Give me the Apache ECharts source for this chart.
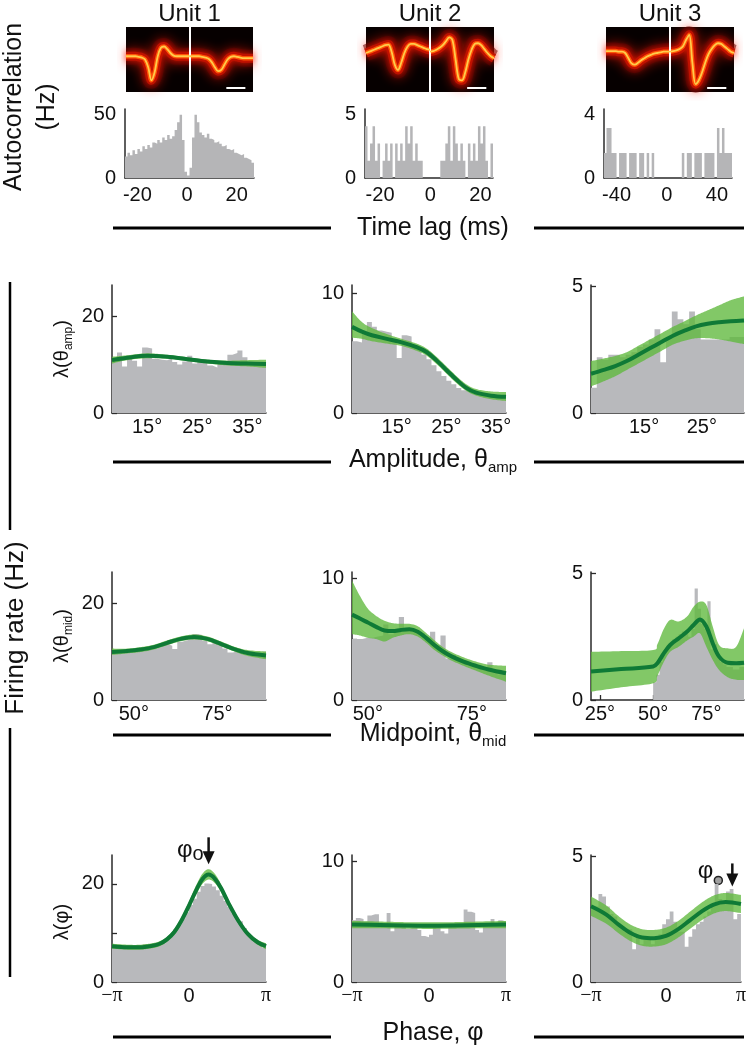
<!DOCTYPE html>
<html><head><meta charset="utf-8">
<script src="https://cdn.jsdelivr.net/npm/echarts@6/dist/echarts.min.js"></script>
<style>html,body{margin:0;padding:0;background:#fff}#c{width:749px;height:1050px}</style>
</head><body><div id="c"></div>
<script>
const FONT = "'Liberation Sans', Arial, Helvetica, sans-serif";
const SERIF = "'Liberation Serif', 'Times New Roman', serif";
const unitNames = ['Unit 1', 'Unit 2', 'Unit 3'];

// ---- waveform density (two channels per unit), fraction of image height from bottom
const wave1A = [.55,.55,.55,.55,.54,.53,.50,.38,.18,.30,.55,.68,.70,.66,.60,.56,.55,.55,.55,.55,.55];
const wave1B = [.55,.55,.55,.55,.54,.53,.51,.46,.38,.32,.34,.42,.50,.54,.55,.54,.53,.52,.52,.52,.52];
const wave2A = [.60,.62,.64,.66,.68,.70,.72,.73,.62,.42,.34,.45,.60,.70,.74,.74,.72,.70,.68,.66,.65];
const wave2B = [.62,.63,.65,.68,.72,.78,.84,.80,.50,.20,.18,.30,.50,.65,.74,.75,.72,.66,.60,.55,.52];
const wave3A = [.63,.63,.63,.63,.62,.62,.60,.52,.44,.42,.45,.49,.52,.55,.57,.59,.60,.61,.62,.62,.62];
const wave3B = [.62,.63,.64,.66,.70,.80,.88,.45,.12,.18,.30,.45,.58,.66,.72,.75,.74,.70,.66,.62,.60];
const scaleBar = [1.58, 1.88, 0.07];

// ---- autocorrelation (Hz), bins start / width
const acStart = [-25, -26, -50];
const acBin = [1, 1, 2];
const acRange = [[-25, 27], [-26, 25], [-50, 52]];
const acYMax = [54.5, 5.4, 4.36];
const acYLabels = [[0, 50], [0, 5], [0, 4]];
const acXLabels = [[-20, 0, 20], [-20, 0, 20], [-40, 0, 40]];
const ac1 = [17,20,18,22,19,23,21,25,23,26,24,28,27,30,28,32,30,34,31,33,38,44,50,30,5,2,8,32,50,44,36,34,32,35,31,30,28,29,27,25,26,23,22,23,20,19,18,19,16,15,14,12];
const ac2 = [4.05,1.35,2.7,4.05,1.35,2.7,0,1.35,2.7,1.35,2.7,0,2.7,1.35,2.7,1.35,4.05,2.7,4.05,1.35,2.7,1.35,1.35,0,0,0,0,0,0,0,1.35,1.35,2.7,4.05,1.35,4.05,2.7,1.35,2.7,1.35,0,2.7,1.35,2.7,1.35,4.05,2.7,4.05,1.35,0,2.7];
const ac3 = [1.58,3.16,3.16,1.58,1.58,0,1.58,1.58,1.58,0,1.58,1.58,1.58,0,1.58,1.58,0,1.58,0,1.58,0,0,0,0,0,0,0,0,0,0,0,1.58,0,1.58,1.58,0,1.58,1.58,1.58,0,1.58,1.58,1.58,1.58,0,3.16,1.58,3.16,1.58,1.58,1.58];

// ---- Amplitude row
const amp1Hist = [11.2,12.5,9.6,11.5,10.8,9.6,13.5,13.3,11.2,11.0,10.9,11.3,10.5,10.0,10.6,11.8,10.2,10.7,10.5,9.8,9.4,10.5,10.2,12.0,12.4,12.9,11.5,10.3,10.2,10.2,10.0];
const amp1X = [8, 11, 15, 19, 23, 27, 31, 35, 38.7];
const amp1Mean = [10.9, 11.4, 11.8, 11.6, 11.1, 10.6, 10.3, 10.2, 10.1];
const amp1Low = [10.2, 10.9, 11.3, 11.2, 10.7, 10.2, 9.8, 9.6, 9.3];
const amp1High = [11.6, 11.9, 12.3, 12.0, 11.5, 11.0, 10.8, 10.9, 11.0];

const amp2Hist = [6.0,5.9,6.6,7.6,7.2,6.9,6.8,6.7,6.1,4.6,6.5,6.4,5.6,5.3,4.9,4.5,4.0,3.5,3.1,2.7,2.4,2.1,1.9,1.9,1.7,1.6,1.5,1.4,1.4,1.3,1.3];
const amp2X = [6, 8, 10, 13, 16, 19, 21, 23, 25, 27, 29, 31, 34, 37];
const amp2Mean = [7.2, 6.8, 6.5, 6.2, 5.9, 5.5, 5.1, 4.4, 3.6, 2.8, 2.1, 1.7, 1.45, 1.35];
const amp2Low = [6.3, 6.2, 6.0, 5.8, 5.6, 5.2, 4.8, 4.1, 3.3, 2.5, 1.85, 1.45, 1.15, 1.0];
const amp2High = [8.5, 7.6, 7.1, 6.6, 6.2, 5.8, 5.4, 4.7, 3.9, 3.1, 2.4, 2.0, 1.8, 1.75];

const amp3Hist = [1.0,2.2,2.1,2.3,2.3,2.2,2.3,2.4,2.6,2.7,2.9,3.3,2.0,3.0,4.0,3.7,3.5,4.0,3.3,2.9,2.9,2.9,2.9,2.9,3.0,3.0,3.0];
const amp3X = [5.8, 8, 10, 12, 14, 16, 18, 20, 22, 24, 26, 28, 30, 32.3];
const amp3Mean = [1.55, 1.7, 1.85, 2.05, 2.3, 2.55, 2.8, 3.05, 3.25, 3.42, 3.52, 3.58, 3.62, 3.65];
const amp3Low = [1.05, 1.25, 1.45, 1.7, 1.95, 2.2, 2.45, 2.7, 2.85, 2.95, 2.95, 2.9, 2.82, 2.72];
const amp3High = [2.05, 2.15, 2.25, 2.4, 2.65, 2.9, 3.15, 3.4, 3.62, 3.85, 4.05, 4.25, 4.45, 4.6];

// ---- Midpoint row
const mid1Hist = [9.5,9.6,9.7,9.8,10.0,10.1,10.3,10.4,10.6,11.0,11.6,11.2,10.5,12.0,12.3,12.6,13.6,13.4,12.2,11.5,12.0,11.5,10.6,9.8,10.0,9.6,9.2,9.1,9.0,9.1,10.0];
const mid1X = [43.5, 48, 52, 56, 60, 64, 68, 72, 76, 80, 84, 89.5];
const mid1Mean = [9.9, 10.1, 10.4, 10.9, 11.8, 12.6, 13.0, 12.6, 11.6, 10.5, 9.7, 9.2];
const mid1Low = [9.3, 9.6, 9.9, 10.4, 11.3, 12.1, 12.5, 12.1, 11.1, 10.0, 9.1, 8.4];
const mid1High = [10.6, 10.6, 10.9, 11.4, 12.3, 13.1, 13.5, 13.1, 12.1, 11.0, 10.3, 10.0];

const mid2Hist = [5.0,5.0,5.1,5.1,5.2,5.3,6.2,5.4,5.6,6.8,5.9,5.8,5.7,5.5,5.1,5.6,4.5,5.3,3.4,3.7,3.4,3.2,2.9,2.7,2.6,2.5,3.1,2.3,2.1,2.0];
const mid2X = [46.2, 48, 50, 52, 54, 56, 58, 60, 62, 64, 66, 68, 70, 73, 76, 79, 83.2];
const mid2Mean = [7.0, 6.7, 6.35, 6.0, 5.7, 5.65, 5.75, 5.8, 5.6, 5.1, 4.5, 4.0, 3.6, 3.15, 2.8, 2.5, 2.2];
const mid2Low = [5.4, 5.3, 5.1, 5.0, 4.8, 5.1, 5.3, 5.4, 5.2, 4.7, 4.1, 3.65, 3.25, 2.8, 2.4, 2.0, 1.5];
const mid2High = [9.8, 8.6, 7.5, 6.9, 6.5, 6.3, 6.25, 6.25, 6.05, 5.5, 4.9, 4.35, 3.95, 3.5, 3.15, 2.9, 2.8];

const mid3Hist = [0.7,1.0,1.5,1.8,2.0,2.2,2.4,2.5,2.6,2.7,2.6,2.5,2.8,4.4,3.6,3.0,2.8,3.9,2.0,2.2,1.7,1.5,1.4,1.3,1.3,1.2,1.2,1.3,1.3];
const mid3X = [20.8, 35, 50, 52, 55, 58, 62, 66, 69, 72, 75, 78, 81, 85, 89, 92.7];
const mid3Mean = [1.12, 1.22, 1.32, 1.45, 1.84, 2.17, 2.43, 2.7, 2.96, 3.18, 2.9, 2.24, 1.71, 1.47, 1.45, 1.47];
const mid3Low = [0.33, 0.5, 0.66, 0.95, 1.5, 1.9, 2.1, 2.35, 2.5, 2.63, 2.1, 1.58, 1.18, 0.9, 0.8, 0.79];
const mid3High = [1.9, 1.93, 1.97, 2.2, 2.8, 3.16, 3.1, 3.3, 3.68, 3.88, 3.75, 2.9, 2.17, 2.04, 2.1, 2.83];

// ---- Phase row
const ph1Hist = [7.0,7.6,7.0,6.8,6.9,6.8,6.8,7.0,7.7,7.1,7.2,7.4,7.7,8.2,8.9,9.6,10.8,11.6,12.9,14.2,15.7,17.0,18.4,19.6,20.1,20.0,19.5,18.7,17.6,16.5,15.3,14.0,13.0,12.4,11.0,9.5,9.0,8.3,7.5,7.0];
const ph1X = [-3.1416, -2.5, -2, -1.5, -1.2, -0.9, -0.6, -0.3, 0, 0.3, 0.55, 0.8, 1.05, 1.3, 1.6, 2.0, 2.4, 2.8, 3.1416];
const ph1Mean = [7.3, 7.1, 7.1, 7.4, 7.8, 8.7, 10.2, 12.6, 15.6, 18.8, 21.0, 21.9, 21.1, 19.2, 16.2, 12.6, 9.8, 8.1, 7.3];
const ph1Low = [6.8, 6.6, 6.6, 6.9, 7.3, 8.2, 9.6, 11.9, 14.8, 17.9, 20.0, 20.9, 20.2, 18.4, 15.5, 12.0, 9.3, 7.6, 6.7];
const ph1High = [7.8, 7.6, 7.6, 7.9, 8.3, 9.2, 10.8, 13.3, 16.4, 19.8, 22.1, 23.0, 22.1, 20.0, 16.9, 13.2, 10.3, 8.6, 7.9];

const ph2Hist = [5.1,5.3,5.2,5.0,5.5,5.6,5.6,4.9,4.7,5.7,4.2,4.6,4.7,4.6,4.4,4.5,4.5,4.3,3.8,3.7,3.9,4.5,4.6,4.2,4.0,4.6,4.7,4.8,4.6,6.0,5.8,5.7,4.3,4.1,4.6,4.7,5.2,4.7,5.1,5.0];
const ph2X = [-3.1416, -2, -1, 0, 1, 2, 3.1416];
const ph2Mean = [4.75, 4.72, 4.68, 4.66, 4.68, 4.72, 4.75];
const ph2Low = [4.45, 4.44, 4.41, 4.39, 4.41, 4.44, 4.45];
const ph2High = [5.05, 5.0, 4.95, 4.93, 4.95, 5.0, 5.05];

const ph3Hist = [3.0,3.0,3.5,3.4,3.0,2.7,2.6,2.3,2.1,2.0,2.1,1.3,1.8,1.5,1.8,1.7,1.5,1.8,1.9,2.3,2.5,2.8,2.4,2.0,2.0,1.4,1.8,2.1,2.3,2.4,2.6,2.8,3.1,3.9,3.3,3.1,3.6,3.7,2.5,2.7];
const ph3X = [-3.1416, -2.5, -2, -1.5, -1, -0.5, 0, 0.5, 1, 1.5, 2, 2.5, 3.1416];
const ph3Mean = [3.01, 2.68, 2.29, 1.96, 1.77, 1.74, 1.83, 2.09, 2.45, 2.81, 3.08, 3.18, 3.10];
const ph3Low = [2.63, 2.32, 1.95, 1.63, 1.44, 1.41, 1.5, 1.76, 2.11, 2.46, 2.72, 2.82, 2.74];
const ph3High = [3.4, 3.04, 2.63, 2.29, 2.1, 2.07, 2.16, 2.42, 2.79, 3.16, 3.44, 3.54, 3.46];

const phiPref = [0.8, null, 2.78];

// ---------------------------------------------------------------
const PI = Math.PI;
const panels = [
  {hist: amp1Hist, hs: 8, hw: 1, x: amp1X, m: amp1Mean, lo: amp1Low, hi: amp1High, xr: [8, 38.7], ymax: 26.4, xl: [15,25,35], yl: [0,20], yt: [0,10,20], kind: 'deg'},
  {hist: amp2Hist, hs: 6, hw: 1, x: amp2X, m: amp2Mean, lo: amp2Low, hi: amp2High, xr: [6, 37], ymax: 10.7, xl: [15,25,35], yl: [0,10], yt: [0,5,10], kind: 'deg'},
  {hist: amp3Hist, hs: 5.8, hw: 1, x: amp3X, m: amp3Mean, lo: amp3Low, hi: amp3High, xr: [5.8, 32.3], ymax: 5.05, xl: [15,25], yl: [0,5], yt: [0,5], kind: 'deg'},
  {hist: mid1Hist, hs: 43.5, hw: 1.5, x: mid1X, m: mid1Mean, lo: mid1Low, hi: mid1High, xr: [43.5, 89.5], ymax: 26.4, xl: [50,75], yl: [0,20], yt: [0,10,20], kind: 'deg'},
  {hist: mid2Hist, hs: 46.2, hw: 1.25, x: mid2X, m: mid2Mean, lo: mid2Low, hi: mid2High, xr: [46.2, 83.2], ymax: 10.5, xl: [50,75], yl: [0,10], yt: [0,5,10], kind: 'deg'},
  {hist: mid3Hist, hs: 50, hw: 1.5, x: mid3X, m: mid3Mean, lo: mid3Low, hi: mid3High, xr: [20.8, 92.7], ymax: 5.05, xl: [25,50,75], yl: [0,5], yt: [0,5], kind: 'deg'},
  {hist: ph1Hist, hs: -PI, hw: 2*PI/40, x: ph1X, m: ph1Mean, lo: ph1Low, hi: ph1High, xr: [-PI, PI], ymax: 25.9, xl: [-PI,0,PI], yl: [0,20], yt: [0,10,20], kind: 'phase'},
  {hist: ph2Hist, hs: -PI, hw: 2*PI/40, x: ph2X, m: ph2Mean, lo: ph2Low, hi: ph2High, xr: [-PI, PI], ymax: 10.5, xl: [-PI,0,PI], yl: [0,10], yt: [0,5,10], kind: 'phase'},
  {hist: ph3Hist, hs: -PI, hw: 2*PI/40, x: ph3X, m: ph3Mean, lo: ph3Low, hi: ph3High, xr: [-PI, PI], ymax: 5.05, xl: [-PI,0,PI], yl: [0,5], yt: [0,5], kind: 'phase'}
];

const colLeft = [112, 352, 591];
const colWidth = [154, 154, 153];
const rowTop = [285, 572, 855];
const rowHeight = [128, 128, 127];

const waveBox = [[126, 27, 127, 65], [366, 27, 128, 65], [606, 27, 128, 65]];
const acBox = [[125, 109, 129, 69], [365, 109, 128, 69], [604, 109, 128, 69]];

const AXC = '#2a2a2a';
const HISTC = '#b8b9bc';
const BANDC = 'rgba(95,185,60,0.78)';
const LINEC = '#0f7a36';

function histPoints(start, w, vals) {
  const pts = vals.map((v, i) => [start + i * w, v]);
  pts.push([start + vals.length * w, vals[vals.length - 1]]);
  return pts;
}
function zip(a, b) { return a.map((v, i) => [v, b[i]]); }

// Catmull-Rom smoothing of already-projected pixel points (rendering only)
function smoothPix(pts, steps) {
  const out = [];
  for (let i = 0; i < pts.length - 1; i++) {
    const p0 = pts[Math.max(0, i - 1)], p1 = pts[i], p2 = pts[i + 1], p3 = pts[Math.min(pts.length - 1, i + 2)];
    for (let s = 0; s < steps; s++) {
      const t = s / steps, t2 = t * t, t3 = t2 * t;
      const f = (a, b, c, d) => 0.5 * ((2 * b) + (-a + c) * t + (2 * a - 5 * b + 4 * c - d) * t2 + (-a + 3 * b - 3 * c + d) * t3);
      out.push([f(p0[0], p1[0], p2[0], p3[0]), f(p0[1], p1[1], p2[1], p3[1])]);
    }
  }
  out.push(pts[pts.length - 1]);
  return out;
}

const grids = [], xAxes = [], yAxes = [], series = [];

// waveform grids
const waves = [[wave1A, wave1B], [wave2A, wave2B], [wave3A, wave3B]];
waveBox.forEach((b, u) => {
  const gi = grids.length;
  grids.push({left: b[0], top: b[1], width: b[2], height: b[3], show: true, backgroundColor: '#060000', borderWidth: 0});
  xAxes.push({gridIndex: gi, type: 'value', min: 0, max: 2, show: false});
  yAxes.push({gridIndex: gi, type: 'value', min: 0, max: 1, show: false});
  waves[u].forEach((w, ch) => {
    const pts = w.map((v, i) => [ch + i / (w.length - 1), v]);
    const layers = [
      {width: 17, color: 'rgba(90,0,0,0.55)', blur: 12},
      {width: 9, color: 'rgba(195,18,0,0.9)', blur: 6},
      {width: 4.5, color: '#ff5206', blur: 0},
      {width: 1.8, color: '#ffcc4a', blur: 0}
    ];
    layers.forEach((L, li) => {
      series.push({
        type: 'line', xAxisIndex: gi, yAxisIndex: gi, data: pts, smooth: 0.35, symbol: 'none', silent: true, z: 2 + li,
        lineStyle: {width: L.width, color: L.color, shadowBlur: L.blur, shadowColor: 'rgba(255,30,0,0.8)'}
      });
    });
  });
  series.push({
    type: 'line', xAxisIndex: gi, yAxisIndex: gi, data: [], symbol: 'none', silent: true, z: 10,
    markLine: {symbol: 'none', silent: true, animation: false, label: {show: false},
      lineStyle: {color: '#ffffff', width: 2, type: 'solid'},
      data: [
        [{coord: [1, 0]}, {coord: [1, 1]}],
        [{coord: [scaleBar[0], scaleBar[2]]}, {coord: [scaleBar[1], scaleBar[2]]}]
      ]}
  });
});

function commonAxisLine() { return {show: true, onZero: false, lineStyle: {color: AXC, width: 1.5}}; }

// autocorrelation grids
const acs = [ac1, ac2, ac3];
acBox.forEach((b, u) => {
  const gi = grids.length;
  grids.push({left: b[0], top: b[1], width: b[2], height: b[3]});
  xAxes.push({gridIndex: gi, type: 'value', min: acRange[u][0], max: acRange[u][1],
    axisLine: commonAxisLine(), splitLine: {show: false}, axisTick: {show: false},
    axisLabel: {customValues: acXLabels[u], color: '#111', fontSize: 20, fontFamily: FONT, margin: 7}});
  yAxes.push({gridIndex: gi, type: 'value', min: 0, max: acYMax[u],
    axisLine: commonAxisLine(), splitLine: {show: false}, axisTick: {show: false},
    axisLabel: {customValues: acYLabels[u], color: '#111', fontSize: 20, fontFamily: FONT, margin: 9}});
  series.push({type: 'line', xAxisIndex: gi, yAxisIndex: gi, data: histPoints(acStart[u], acBin[u], acs[u]),
    step: 'end', symbol: 'none', silent: true, lineStyle: {width: 0}, areaStyle: {color: '#b5b5b7', opacity: 1}});
});

// firing-rate grids
panels.forEach((p, k) => {
  const r = Math.floor(k / 3), c = k % 3;
  const gi = grids.length;
  p.gi = gi;
  grids.push({left: colLeft[c], top: rowTop[r], width: colWidth[c], height: rowHeight[r]});
  const xLabel = p.kind === 'deg'
    ? {customValues: p.xl, formatter: v => v + '°'}
    : {customValues: p.xl, formatter: v => (v < -0.1 ? '{p|−π}' : (v > 0.1 ? '{p|π}' : '0')),
       rich: {p: {fontFamily: SERIF, fontSize: 20, color: '#111'}}};
  xAxes.push({gridIndex: gi, type: 'value', min: p.xr[0], max: p.xr[1],
    axisLine: commonAxisLine(), splitLine: {show: false},
    axisTick: {show: true, inside: true, length: 5, customValues: p.kind === 'deg' ? p.xl : [0], lineStyle: {color: AXC, width: 1.3}},
    axisLabel: Object.assign({color: '#111', fontSize: 20, fontFamily: FONT, margin: 4}, xLabel)});
  yAxes.push({gridIndex: gi, type: 'value', min: 0, max: p.ymax,
    axisLine: commonAxisLine(), splitLine: {show: false},
    axisTick: {show: true, inside: true, length: 5, customValues: p.yt, lineStyle: {color: AXC, width: 1.3}},
    axisLabel: {customValues: p.yl, color: '#111', fontSize: 20, fontFamily: FONT, margin: 8}});
  series.push({type: 'line', xAxisIndex: gi, yAxisIndex: gi, data: histPoints(p.hs, p.hw, p.hist),
    step: 'end', symbol: 'none', silent: true, z: 1, lineStyle: {width: 0}, areaStyle: {color: HISTC, opacity: 1}});
  const bandData = p.x.map((x, i) => [x, p.lo[i], p.hi[i]]);
  series.push({type: 'custom', xAxisIndex: gi, yAxisIndex: gi, data: [bandData[0]], silent: true, z: 2, clip: true,
    renderItem: (params, api) => {
      const up = smoothPix(bandData.map(d => api.coord([d[0], d[2]])), 12);
      const dn = smoothPix(bandData.map(d => api.coord([d[0], d[1]])), 12).reverse();
      return {type: 'polygon', shape: {points: up.concat(dn)}, style: {fill: BANDC}};
    }});
  series.push({type: 'line', xAxisIndex: gi, yAxisIndex: gi, data: zip(p.x, p.m),
    smooth: 0.35, symbol: 'none', silent: true, z: 3, lineStyle: {width: 4, color: LINEC}});
});

// static texts & rules
const T = (text, x, y, size) => ({type: 'text', x: x, y: y, silent: true,
  style: {text: text, fontSize: size, fontFamily: FONT, fill: '#111', align: 'center', verticalAlign: 'middle'}});
const rule = (x1, y1, x2, y2, w) => ({type: 'line', silent: true, shape: {x1, y1, x2, y2}, style: {stroke: '#000', lineWidth: w || 3}});
const subText = (x, y, main, sub, size, ssize, rot) => ({type: 'text', x: x, y: y, rotation: rot || 0, silent: true,
  style: {align: 'center', verticalAlign: 'middle', text: '{a|' + main[0] + '}' + (sub ? '{s|' + sub + '}' : '') + (main[1] ? '{a|' + main[1] + '}' : ''),
    rich: {a: {fontSize: size, fontFamily: FONT, fill: '#111', lineHeight: size + 6}, s: {fontSize: ssize, fontFamily: FONT, fill: '#111', verticalAlign: 'bottom'}}}});

const graphics = [];
unitNames.forEach((n, u) => graphics.push(T(n, waveBox[u][0] + waveBox[u][2] / 2, 14, 24)));
graphics.push(Object.assign(T('Autocorrelation', 14, 107, 25), {rotation: PI / 2}));
graphics.push(Object.assign(T('(Hz)', 47, 107, 25), {rotation: PI / 2}));
graphics.push(Object.assign(T('Firing rate (Hz)', 16, 628, 26), {rotation: PI / 2}));
graphics.push(rule(10, 282, 10, 530, 2.5));
graphics.push(rule(10, 728, 10, 977, 2.5));

const sectionY = [228, 462, 735, 1037];
sectionY.forEach(y => { graphics.push(rule(113, y, 331, y)); graphics.push(rule(534, y, 744, y)); });
graphics.push(T('Time lag (ms)', 433, 228, 25));
graphics.push(subText(433, 460, ['Amplitude, θ', ''], 'amp', 25, 15));
graphics.push(subText(433, 734, ['Midpoint, θ', ''], 'mid', 25, 15));
graphics.push(T('Phase, φ', 433, 1033, 25));

graphics.push(subText(62, 349, ['λ(θ', ')'], 'amp', 20, 12, PI / 2));
graphics.push(subText(62, 636, ['λ(θ', ')'], 'mid', 20, 12, PI / 2));
graphics.push(subText(62, 922, ['λ(φ)', ''], '', 20, 12, PI / 2));

const option = {
  animation: false,
  backgroundColor: '#ffffff',
  grid: grids, xAxis: xAxes, yAxis: yAxes, series: series,
  graphic: graphics
};

const chart = echarts.init(document.getElementById('c'), null, {renderer: 'canvas'});
chart.setOption(option);

// preferred-phase arrows, positioned through the axes
const extra = [];
function arrow(panel, phi, tipVal, len, withCircle) {
  const p = chart.convertToPixel({gridIndex: panel.gi}, [phi, tipVal]);
  const x = p[0], y = p[1];
  extra.push({type: 'line', silent: true, shape: {x1: x, y1: y - len, x2: x, y2: y - 10}, style: {stroke: '#111', lineWidth: 2.5}});
  extra.push({type: 'polygon', silent: true, shape: {points: [[x - 6, y - 13], [x + 6, y - 13], [x, y]]}, style: {fill: '#111'}});
  if (!withCircle) {
    extra.push({type: 'text', x: x - 5, y: y - 14, silent: true,
      style: {align: 'right', verticalAlign: 'middle', text: '{a|φ}{s|o}',
        rich: {a: {fontSize: 24, fontFamily: FONT, fill: '#111', lineHeight: 28}, s: {fontSize: 20, fontFamily: FONT, fill: '#111', verticalAlign: 'bottom'}}}});
  } else {
    extra.push({type: 'circle', silent: true, shape: {cx: x - 14, cy: y - 6, r: 4}, style: {fill: '#a0a0a0', stroke: '#222', lineWidth: 1.5}});
    extra.push({type: 'text', x: x - 19, y: y - 15, silent: true,
      style: {align: 'right', verticalAlign: 'middle', text: 'φ', fontSize: 24, fontFamily: FONT, fill: '#111'}});
  }
}
arrow(panels[6], phiPref[0], 24.0, 27, false);
arrow(panels[8], phiPref[2], 3.8, 23, true);
chart.setOption({graphic: graphics.concat(extra)});
</script></body></html>
